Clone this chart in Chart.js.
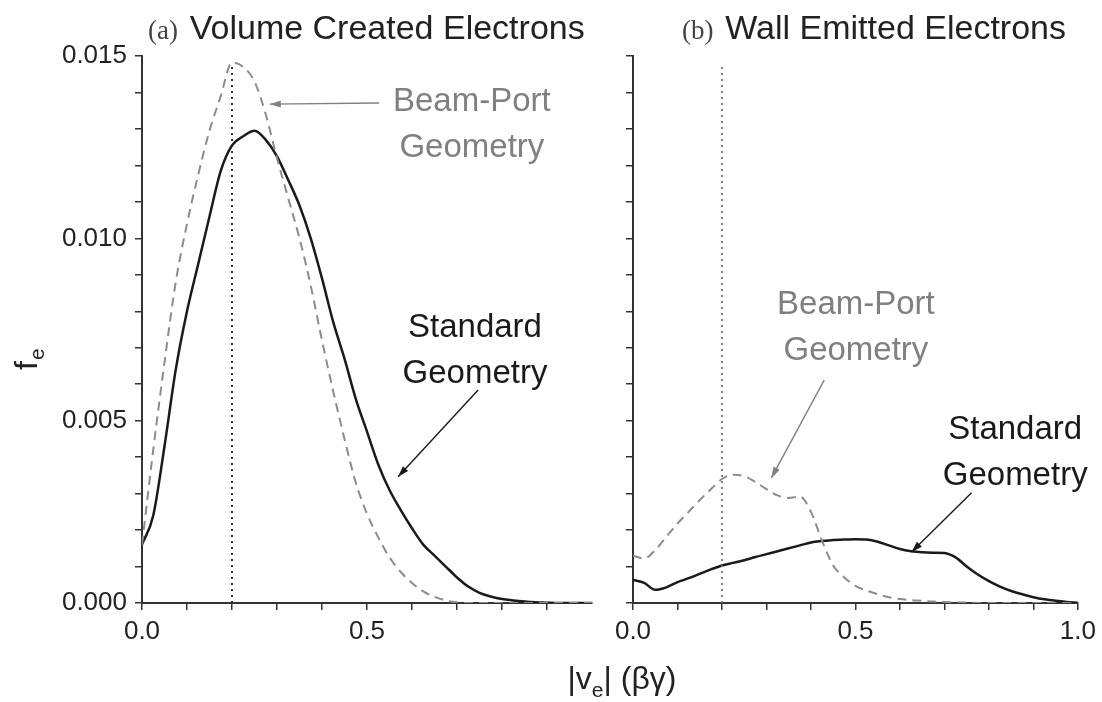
<!DOCTYPE html>
<html>
<head>
<meta charset="utf-8">
<script src="https://cdn.jsdelivr.net/npm/chart.js@4.4.1/dist/chart.umd.min.js"></script>
<style>
html, body { margin: 0; padding: 0; background: #fff; }
#wrap { position: relative; width: 1102px; height: 702px; }
#wrap canvas { position: absolute; left: 0; top: 0; }
</style>
</head>
<body>
<div id="wrap">
  <canvas id="volume" width="1102" height="702"></canvas>
  <canvas id="wall" width="1102" height="702"></canvas>
</div>
<script>
// |v_e| grid shared by all curves
var speeds = [0.000, 0.025, 0.050, 0.075, 0.100, 0.125, 0.150, 0.175, 0.200, 0.225,
              0.250, 0.275, 0.300, 0.325, 0.350, 0.375, 0.400, 0.425, 0.450, 0.475,
              0.500, 0.525, 0.550, 0.575, 0.600, 0.625, 0.650, 0.675, 0.700, 0.725,
              0.750, 0.775, 0.800, 0.825, 0.850, 0.875, 0.900, 0.925, 0.950, 0.975, 1.000];

// (a) volume created electrons
var volStandard = [0.0016, 0.0024, 0.0043, 0.0064, 0.0080, 0.0093, 0.0106, 0.01185, 0.01255, 0.0128,
                   0.01295, 0.0127, 0.01225, 0.0116, 0.0109, 0.0100, 0.0089, 0.0077, 0.0067, 0.0056,
                   0.0047, 0.0038, 0.0031, 0.00255, 0.00205, 0.0016, 0.0013, 0.0010, 0.0007, 0.00045,
                   0.00028, 0.00018, 0.00011, 0.00007, 0.00004, 0.00002, 0.00001, 0, 0, 0, 0];
var volBeamPort = [0.0016, 0.0042, 0.0066, 0.0088, 0.0104, 0.01175, 0.01295, 0.0139, 0.01482, 0.0147,
                   0.0143, 0.0134, 0.0122, 0.0111, 0.0100, 0.0087, 0.0072, 0.0058, 0.0045, 0.0033,
                   0.00245, 0.0018, 0.00125, 0.00085, 0.00055, 0.00032, 0.00017, 0.00007, 0.00002, 0,
                   0, 0, 0, 0, 0, 0, 0, 0, 0, 0, 0];

// (b) wall emitted electrons
var wallStandard = [0.00063, 0.00055, 0.00036, 0.00043, 0.00057, 0.00068, 0.0008, 0.00092, 0.00103, 0.0011,
                    0.00117, 0.00126, 0.00134, 0.00142, 0.0015, 0.00158, 0.00166, 0.0017, 0.00173, 0.00174,
                    0.00175, 0.00174, 0.00168, 0.00158, 0.00148, 0.00142, 0.00139, 0.00138, 0.00137, 0.00125,
                    0.001, 0.00078, 0.0006, 0.00045, 0.00033, 0.00024, 0.00016, 0.0001, 0.00006, 0.00003, 0.00001];
var wallBeamPort = [0.0013, 0.00122, 0.00145, 0.00182, 0.00218, 0.0025, 0.00282, 0.00312, 0.0034, 0.00352,
                    0.00348, 0.00332, 0.00312, 0.00295, 0.00288, 0.00292, 0.0025, 0.0017, 0.00103, 0.0007,
                    0.00047, 0.00034, 0.00024, 0.00016, 0.00011, 0.00008, 0.00006, 0.00004, 0.00003, 0.00002,
                    0.00001, 0, 0, 0, 0, 0, 0, 0, 0, 0, 0];

// dotted marker at |v_e| = 0.2
var markerX = [0.2, 0.2];
var markerY = [0, 0.0148];

var xTicks = [0.0, 0.5, 1.0];
var yTicks = [0.000, 0.005, 0.010, 0.015];

var sans = '"Liberation Sans", Arial, Helvetica, sans-serif';
var serif = '"Liberation Serif", "Times New Roman", serif';

function pts(xs, ys) {
  return xs.map(function (x, i) { return { x: x, y: ys[i] }; });
}

function arrow(ctx, x1, y1, x2, y2, color) {
  var a = Math.atan2(y2 - y1, x2 - x1), L = 11, W = 3.5;
  ctx.strokeStyle = color; ctx.fillStyle = color; ctx.lineWidth = 1.4;
  ctx.beginPath(); ctx.moveTo(x1, y1); ctx.lineTo(x2, y2); ctx.stroke();
  ctx.beginPath();
  ctx.moveTo(x2, y2);
  ctx.lineTo(x2 - L * Math.cos(a) + W * Math.sin(a), y2 - L * Math.sin(a) - W * Math.cos(a));
  ctx.lineTo(x2 - L * Math.cos(a) - W * Math.sin(a), y2 - L * Math.sin(a) + W * Math.cos(a));
  ctx.closePath(); ctx.fill();
}

// titles, labels and arrows
var notesPlugin = {
  id: 'notes',
  afterDatasetsDraw: function (chart, args, opts) {
    var ctx = chart.ctx, xs = chart.scales.x, ys = chart.scales.y;
    ctx.save();
    // panel title
    ctx.textBaseline = 'alphabetic'; ctx.textAlign = 'left';
    ctx.font = '27px ' + serif; ctx.fillStyle = '#444';
    ctx.fillText(opts.tag, opts.titleX, 39);
    var tw = ctx.measureText(opts.tag + ' ').width;
    ctx.font = '34px ' + sans; ctx.fillStyle = '#222';
    ctx.fillText(opts.title, opts.titleX + tw + 5, 39);

    opts.labels.forEach(function (n) {
      var px = xs.getPixelForValue(n.x), py = ys.getPixelForValue(n.y);
      ctx.font = '33px ' + sans; ctx.fillStyle = n.color;
      ctx.textAlign = 'center'; ctx.textBaseline = 'middle';
      n.lines.forEach(function (t, i) { ctx.fillText(t, px, py + i * 46); });
      arrow(ctx, xs.getPixelForValue(n.from[0]), ys.getPixelForValue(n.from[1]),
                 xs.getPixelForValue(n.to[0]), ys.getPixelForValue(n.to[1]), n.color);
    });

    if (opts.axisTitles) {
      // y title f_e, rotated
      ctx.save();
      ctx.translate(37, 370); ctx.rotate(-Math.PI / 2);
      ctx.textAlign = 'left'; ctx.textBaseline = 'alphabetic'; ctx.fillStyle = '#222';
      ctx.font = '32px ' + sans; ctx.fillText('f', 0, 0);
      var fw = ctx.measureText('f').width;
      ctx.font = '21px ' + sans; ctx.fillText('e', fw + 1, 7);
      ctx.restore();
      // x title |v_e| (βγ)
      ctx.textAlign = 'left'; ctx.textBaseline = 'alphabetic'; ctx.fillStyle = '#222';
      ctx.font = '32px ' + sans;
      var a = '|v', b = '| (βγ)';
      var wa = ctx.measureText(a).width, wb = ctx.measureText(b).width;
      ctx.font = '21px ' + sans;
      var we = ctx.measureText('e').width;
      var x0 = 622 - (wa + we + wb) / 2, base = 689;
      ctx.font = '32px ' + sans; ctx.fillText(a, x0, base);
      ctx.font = '21px ' + sans; ctx.fillText('e', x0 + wa, base + 8);
      ctx.font = '32px ' + sans; ctx.fillText(b, x0 + wa + we, base);
    }
    ctx.restore();
  }
};

function makeScales(yWidth, yLabels, showLastX) {
  return {
    x: {
      type: 'linear', min: 0, max: 1,
      afterFit: function (s) { s.height = 60; },
      border: { display: true, color: '#333', width: 2 },
      grid: {
        drawOnChartArea: false, tickLength: 7, color: '#333', lineWidth: 1.5,
        tickColor: function (c) {
          return (!showLastX && c.tick && Math.abs(c.tick.value - 1) < 1e-6) ? 'rgba(0,0,0,0)' : '#333';
        }
      },
      ticks: {
        stepSize: 0.1, autoSkip: false, maxRotation: 0, padding: 6, color: '#222',
        font: { family: sans, size: 26 },
        callback: function (v) {
          var hit = xTicks.filter(function (t) { return Math.abs(t - v) < 1e-6; });
          if (!hit.length) return '';
          if (hit[0] === 1 && !showLastX) return '';
          return hit[0].toFixed(1);
        }
      }
    },
    y: {
      type: 'linear', min: 0, max: 0.015,
      afterFit: function (s) { s.width = yWidth; },
      border: { display: true, color: '#333', width: 2 },
      grid: { drawOnChartArea: false, tickLength: 7, color: '#333', lineWidth: 1.5 },
      ticks: {
        display: yLabels, stepSize: 0.001, autoSkip: false, padding: 8, color: '#222',
        font: { family: sans, size: 26 },
        callback: function (v) {
          var hit = yTicks.filter(function (t) { return Math.abs(t - v) < 1e-7; });
          return hit.length ? hit[0].toFixed(3) : '';
        }
      }
    }
  };
}

function makeDatasets(std, beam, dotColor) {
  return [
    { data: pts(markerX, markerY), borderColor: dotColor, borderWidth: 1.8, borderDash: [2, 4], pointRadius: 0 },
    { data: pts(speeds, beam), borderColor: '#8c8c8c', borderWidth: 2, borderDash: [9, 6], pointRadius: 0, cubicInterpolationMode: 'monotone' },
    { data: pts(speeds, std), borderColor: '#1a1a1a', borderWidth: 2.5, pointRadius: 0, cubicInterpolationMode: 'monotone' }
  ];
}

var common = {
  responsive: false, animation: false, devicePixelRatio: 1,
  plugins: { legend: { display: false }, tooltip: { enabled: false } }
};

new Chart(document.getElementById('volume').getContext('2d'), {
  type: 'line',
  data: { datasets: makeDatasets(volStandard, volBeamPort, '#222') },
  options: Object.assign({}, common, {
    layout: { padding: { left: 0, top: 56, right: 510, bottom: 39 } },
    scales: makeScales(142, true, false),
    plugins: Object.assign({}, common.plugins, {
      notes: {
        tag: '(a)', title: 'Volume Created Electrons', titleX: 148, axisTitles: true,
        labels: [
          { lines: ['Beam-Port', 'Geometry'], x: 0.733, y: 0.01374, color: '#808080', from: [0.527, 0.01371], to: [0.284, 0.01368] },
          { lines: ['Standard', 'Geometry'], x: 0.74, y: 0.00754, color: '#1a1a1a', from: [0.747, 0.00584], to: [0.569, 0.00346] }
        ]
      }
    })
  }),
  plugins: [notesPlugin]
});

new Chart(document.getElementById('wall').getContext('2d'), {
  type: 'line',
  data: { datasets: makeDatasets(wallStandard, wallBeamPort, '#777') },
  options: Object.assign({}, common, {
    layout: { padding: { left: 600, top: 56, right: 20, bottom: 39 } },
    scales: makeScales(33, false, true),
    plugins: Object.assign({}, common.plugins, {
      notes: {
        tag: '(b)', title: 'Wall Emitted Electrons', titleX: 682, axisTitles: false,
        labels: [
          { lines: ['Beam-Port', 'Geometry'], x: 0.501, y: 0.00817, color: '#808080', from: [0.43, 0.00612], to: [0.311, 0.00343] },
          { lines: ['Standard', 'Geometry'], x: 0.859, y: 0.00474, color: '#1a1a1a', from: [0.761, 0.00302], to: [0.626, 0.0014] }
        ]
      }
    })
  }),
  plugins: [notesPlugin]
});
</script>
</body>
</html>
